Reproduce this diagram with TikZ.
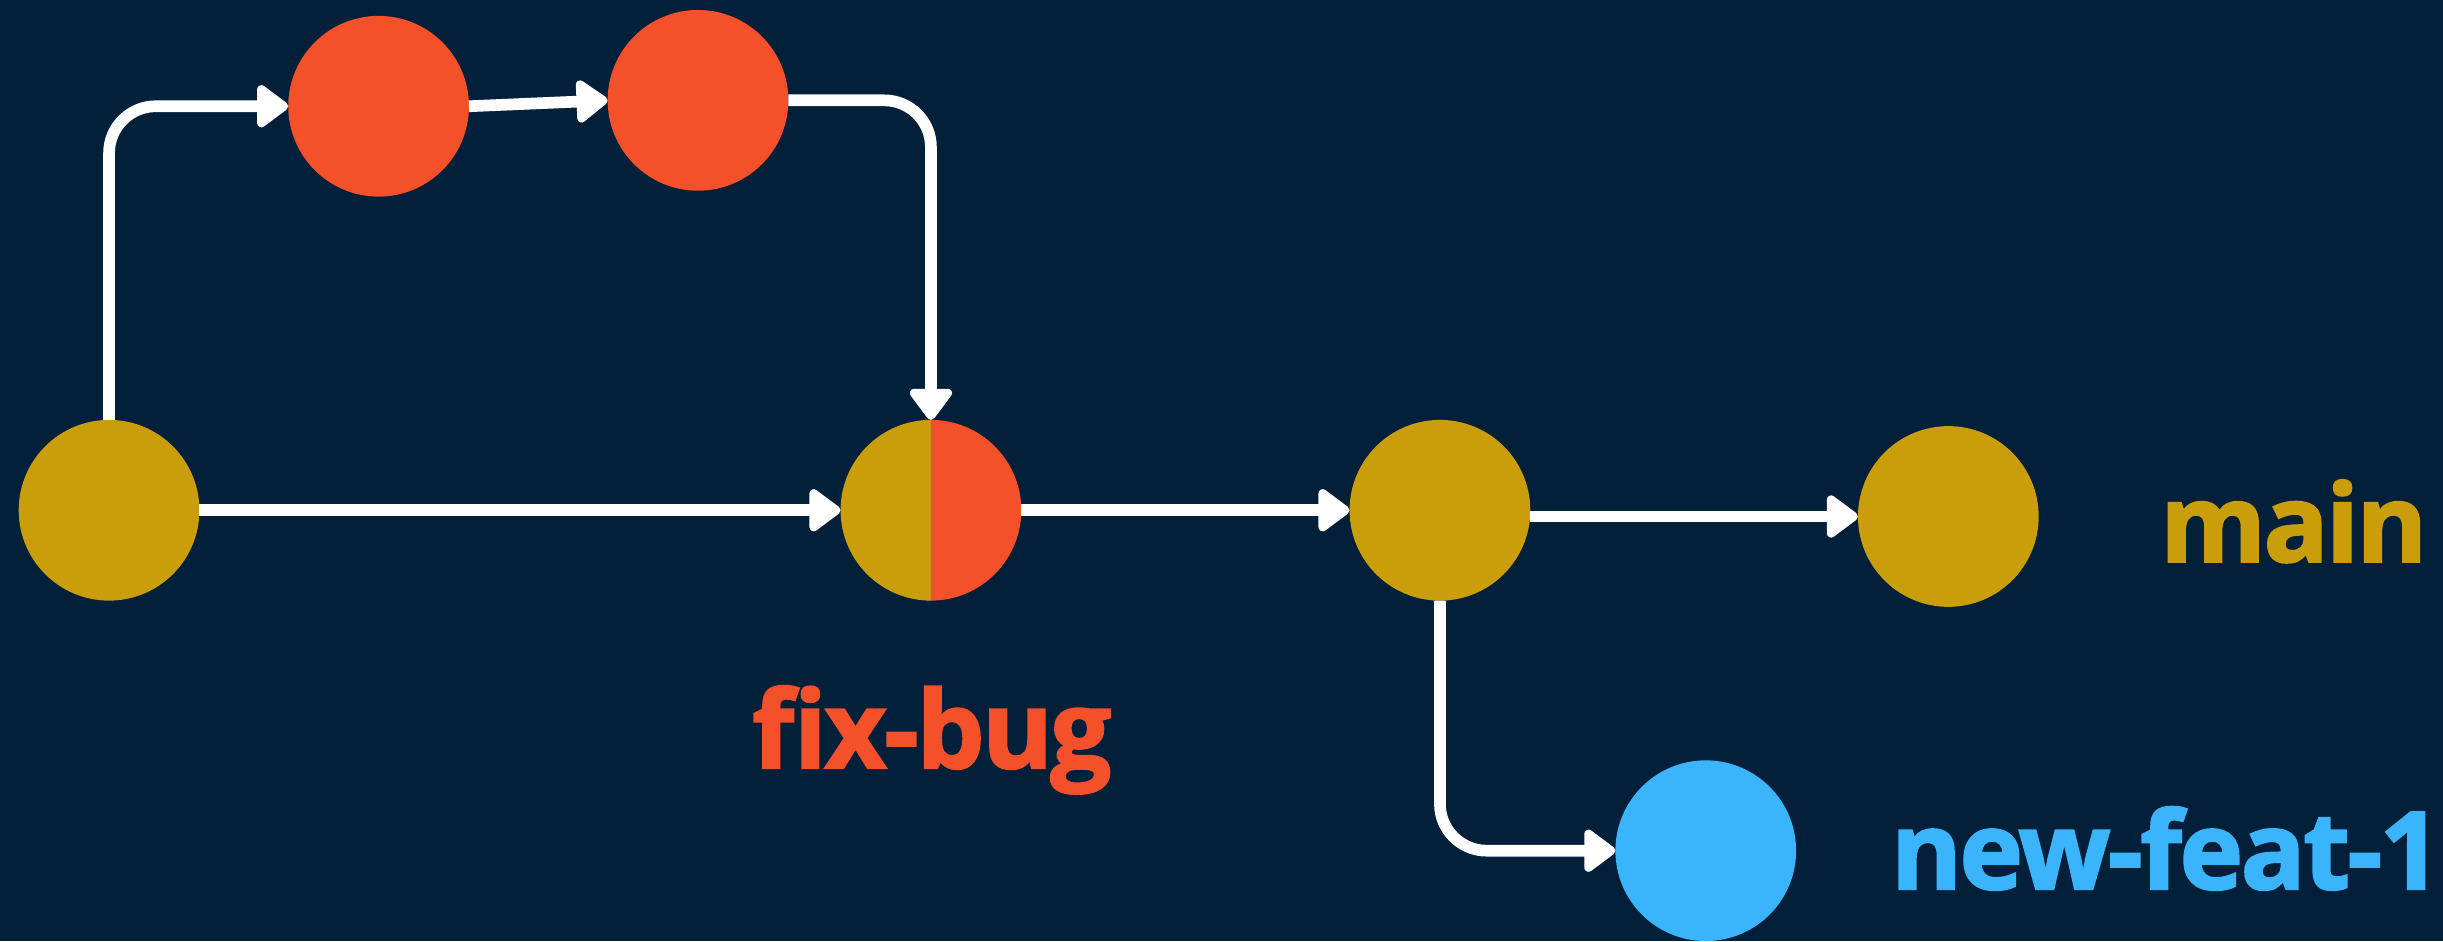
\documentclass[tikz,border=0pt]{standalone}
\usepackage{fontspec}
\setmainfont{Open Sans}
\newfontfamily\lblfont{Open Sans}[UprightFont=*-Bold, FakeBold=2, LetterSpace=-2.2]
\usetikzlibrary{arrows.meta}
\definecolor{bg}{HTML}{03203A}
\definecolor{gold}{HTML}{CA9E0B}
\definecolor{fixred}{HTML}{F4502A}
\definecolor{featblue}{HTML}{3AB4FD}
\begin{document}
\begin{tikzpicture}[x=1pt,y=-1pt,
  commit/.style={circle, minimum size=116pt, inner sep=0pt, outer sep=0pt},
  link/.style={white, line width=7.5pt, -{Triangle[length=22pt,width=31pt,round]}, rounded corners=30pt},
  branchlabel/.style={font=\fontsize{69}{80}\selectfont\lblfont, inner sep=0pt}]
\fill[bg] (0,0) rectangle (1568,604);
\useasboundingbox (0,0) rectangle (1568,604);
\node[commit, fill=gold] (A) at (70,327.5) {};
\node[commit, fill=fixred] (B) at (243,68.2) {};
\node[commit, fill=fixred] (C) at (448,64.4) {};
\node[commit] (D) at (597.5,327.5) {};
\begin{scope}
  \clip (D.west |- D.north) rectangle (D.south);
  \fill[gold] (D.center) circle (58);
\end{scope}
\begin{scope}
  \clip (D.north) rectangle (D.east |- D.south);
  \fill[fixred] (D.center) circle (58);
\end{scope}
\node[commit, fill=gold] (E) at (924.2,327.5) {};
\node[commit, fill=gold] (F) at (1250.5,331.5) {};
\node[commit, fill=featblue] (G) at (1094.8,546) {};
\draw[link] (A.north) |- (B.west);
\draw[link] (B.east) -- (C.west);
\draw[link] (C.east) -| (D.north);
\draw[link] (A.east) -- (D.west);
\draw[link] (D.east) -- (E.west);
\draw[link] (E.east |- F.west) -- (F.west);
\draw[link] (E.south) |- (G.west);
\node[branchlabel, text=gold, anchor=base east] (mainlbl) at (1558,360.5) {main};
\node[branchlabel, text=fixred, anchor=base] (fixlbl) at (598,493) {fix-bug};
\node[branchlabel, text=featblue, anchor=base east] (featlbl) at (1567,570.6) {new-feat-1};
\end{tikzpicture}
\end{document}
